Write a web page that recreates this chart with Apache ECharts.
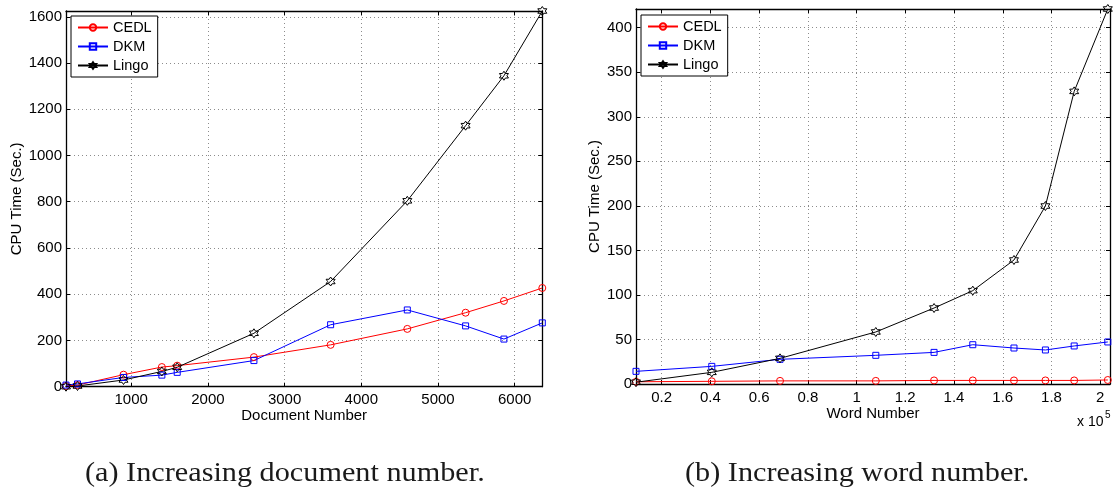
<!DOCTYPE html>
<html><head><meta charset="utf-8">
<script src="https://cdn.jsdelivr.net/npm/echarts@6/dist/echarts.min.js"></script>
<style>html,body{margin:0;padding:0;background:#fff}#c{width:1113px;height:492px}</style>
</head><body><div id="c"></div>
<script>
// ---- data ----
const seriesNames = ['CEDL', 'DKM', 'Lingo'];
const docNumber = [150, 300, 900, 1400, 1600, 2600, 3600, 4600, 5360, 5860, 6360];
const docCEDL  = [3, 7, 52, 85, 91, 128, 181, 250, 320, 371, 427];
const docDKM   = [7, 12, 40, 50, 62, 113, 268, 332, 263, 206, 276];
const docLingo = [0, 3, 29, 66, 84, 231, 455, 804, 1129, 1345, 1625];
// word number in units of 10^5
const wordNumber = [0.095, 0.406, 0.686, 1.079, 1.318, 1.477, 1.646, 1.775, 1.893, 2.031];
const wordCEDL  = [2.5, 3, 3.5, 3.5, 4, 4, 4, 4, 4, 4.5];
const wordDKM   = [14.2, 19.8, 27.7, 32.2, 35.5, 44.1, 40.4, 38.2, 42.7, 47.2];
const wordLingo = [2, 13.1, 28.8, 58.4, 85.3, 104.8, 139.2, 199.8, 328.5, 421];
const docXTicks  = [1000, 2000, 3000, 4000, 5000, 6000];
const docYTicks  = [0, 200, 400, 600, 800, 1000, 1200, 1400, 1600];
const wordXTicks = [0.2, 0.4, 0.6, 0.8, 1, 1.2, 1.4, 1.6, 1.8, 2];
const wordYTicks = [0, 50, 100, 150, 200, 250, 300, 350, 400];
const captions = ['(a) Increasing document number.', '(b) Increasing word number.'];

// ---- styling ----
const FONT = '"Liberation Sans", Arial, Helvetica, sans-serif';
const colors = { CEDL: '#ff0000', DKM: '#0000ff', Lingo: '#000000' };
const hexagram = 'path://M0,-10L2.887,-5L8.66,-5L5.774,0L8.66,5L2.887,5L0,10L-2.887,5L-8.66,5L-5.774,0L-8.66,-5L-2.887,-5Z';
const symbols = { CEDL: ['circle', 7], DKM: ['rect', 6], Lingo: [hexagram, 9] };

function tickFormatter(ticks, fmt) {
  return function (v) {
    for (const t of ticks) { if (Math.abs(v - t) < 1e-6) return fmt(t); }
    return '';
  };
}
const frameLine = { show: true, onZero: false, lineStyle: { color: '#000', width: 1.3 } };
const inTick = { show: true, inside: true, length: 4, lineStyle: { color: '#000', width: 1 } };
const gridLine = { show: true, lineStyle: { color: '#8c8c8c', width: 1, type: [1, 3] } };
const labelStyle = { color: '#000', fontSize: 15, fontFamily: FONT };

function bottomX(gi, min, max, step, ticks, fmt, name) {
  return {
    type: 'value', gridIndex: gi, position: 'bottom', min, max, minInterval: step, maxInterval: step,
    axisLine: frameLine, axisTick: inTick, splitLine: gridLine,
    axisLabel: Object.assign({ margin: 6, formatter: tickFormatter(ticks, fmt) }, labelStyle),
    name, nameLocation: 'middle', nameGap: 22, nameMoveOverlap: false,
    nameTextStyle: labelStyle
  };
}
function topX(gi, min, max, step) {
  return {
    type: 'value', gridIndex: gi, position: 'top', min, max, minInterval: step, maxInterval: step,
    axisLine: frameLine, axisTick: inTick, splitLine: { show: false }, axisLabel: { show: false }
  };
}
function leftY(gi, max, step, ticks, gap) {
  return {
    type: 'value', gridIndex: gi, position: 'left', min: 0, max, interval: step,
    axisLine: frameLine, axisTick: inTick, splitLine: gridLine,
    axisLabel: Object.assign({ margin: 4, formatter: tickFormatter(ticks, t => String(t)) }, labelStyle),
    name: 'CPU Time (Sec.)', nameLocation: 'middle', nameGap: gap, nameMoveOverlap: false,
    nameTextStyle: labelStyle
  };
}
function rightY(gi, max, step) {
  return {
    type: 'value', gridIndex: gi, position: 'right', min: 0, max, interval: step,
    axisLine: frameLine, axisTick: inTick, splitLine: { show: false }, axisLabel: { show: false }
  };
}
function mkSeries(name, xs, ys, axisIdx) {
  return {
    type: 'line', name, xAxisIndex: axisIdx, yAxisIndex: axisIdx,
    data: xs.map((x, i) => [x, ys[i]]),
    symbol: symbols[name][0], symbolSize: symbols[name][1],
    showSymbol: true, clip: false,
    lineStyle: { color: colors[name], width: 1 },
    itemStyle: { color: 'rgba(255,255,255,0)', borderColor: colors[name], borderWidth: 1 },
    emphasis: { disabled: true }, z: 3
  };
}
function mkLegend(left, top) {
  return {
    left, top, orient: 'vertical', data: seriesNames,
    backgroundColor: '#fff', borderColor: '#000', borderWidth: 1, borderRadius: 0,
    padding: [4, 6, 4, 6], itemWidth: 30, itemHeight: 8, itemGap: 4,
    textStyle: { color: '#000', fontSize: 14.5, fontFamily: FONT, lineHeight: 14 },
    selectedMode: false
  };
}

const option = {
  animation: false,
  backgroundColor: '#fff',
  grid: [
    { left: 66, top: 11, right: 570.7, bottom: 105.3, containLabel: false },
    { left: 636, top: 9, right: 2.5, bottom: 108, containLabel: false }
  ],
  xAxis: [
    bottomX(0, docNumber[0], docNumber[docNumber.length - 1], 1000, docXTicks, t => String(t), 'Document Number'),
    bottomX(1, wordNumber[0], 2.04, 0.2, wordXTicks, t => String(+t.toFixed(1)), 'Word Number'),
    topX(0, docNumber[0], docNumber[docNumber.length - 1], 1000),
    topX(1, wordNumber[0], 2.04, 0.2)
  ],
  yAxis: [
    leftY(0, 1625, 200, docYTicks, 42),
    leftY(1, 421, 50, wordYTicks, 34),
    rightY(0, 1625, 200),
    rightY(1, 421, 50)
  ],
  legend: [mkLegend(71, 16), mkLegend(641, 15)],
  series: [
    mkSeries('CEDL', docNumber, docCEDL, 0),
    mkSeries('DKM', docNumber, docDKM, 0),
    mkSeries('Lingo', docNumber, docLingo, 0),
    mkSeries('CEDL', wordNumber, wordCEDL, 1),
    mkSeries('DKM', wordNumber, wordDKM, 1),
    mkSeries('Lingo', wordNumber, wordLingo, 1)
  ],
  graphic: [
    { type: 'text', x: 85, y: 474, scaleX: 1.12, style: { text: captions[0], font: '27px "Liberation Serif", "Times New Roman", serif', fill: '#1a1a1a', align: 'left', verticalAlign: 'middle' } },
    { type: 'text', x: 685, y: 474, scaleX: 1.12, style: { text: captions[1], font: '27px "Liberation Serif", "Times New Roman", serif', fill: '#1a1a1a', align: 'left', verticalAlign: 'middle' } },
    { type: 'text', x: 1077, y: 422, style: { text: 'x 10', font: '14px ' + FONT, fill: '#000', align: 'left', verticalAlign: 'middle' } },
    { type: 'text', x: 1105, y: 415, style: { text: '5', font: '10px ' + FONT, fill: '#000', align: 'left', verticalAlign: 'middle' } }
  ]
};
const chart = echarts.init(document.getElementById('c'), null, { renderer: 'canvas' });
chart.setOption(option);
</script>
</body></html>
